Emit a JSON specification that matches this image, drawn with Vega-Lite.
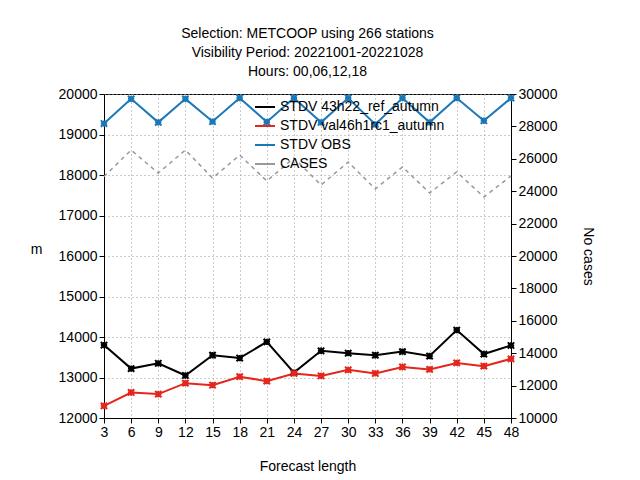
{
  "$schema": "https://vega.github.io/schema/vega-lite/v6.json",
  "width": 407,
  "height": 324,
  "autosize": {"type": "none"},
  "padding": {"left": 104, "top": 94, "right": 129, "bottom": 62},
  "background": "white",
  "title": {
    "text": ["Selection: METCOOP using   266 stations", "Visibility   Period: 20221001-20221028", "Hours:  00,06,12,18"],
    "anchor": "middle",
    "fontSize": 14,
    "font": "Liberation Sans",
    "fontWeight": "normal",
    "lineHeight": 19,
    "offset": 8
  },
  "data": {
    "values": [
      {"s": "STDV 43h22_ref_autumn", "fc": 3, "v": 13800},
      {"s": "STDV 43h22_ref_autumn", "fc": 6, "v": 13220},
      {"s": "STDV 43h22_ref_autumn", "fc": 9, "v": 13350},
      {"s": "STDV 43h22_ref_autumn", "fc": 12, "v": 13050},
      {"s": "STDV 43h22_ref_autumn", "fc": 15, "v": 13550},
      {"s": "STDV 43h22_ref_autumn", "fc": 18, "v": 13480},
      {"s": "STDV 43h22_ref_autumn", "fc": 21, "v": 13880},
      {"s": "STDV 43h22_ref_autumn", "fc": 24, "v": 13120},
      {"s": "STDV 43h22_ref_autumn", "fc": 27, "v": 13660},
      {"s": "STDV 43h22_ref_autumn", "fc": 30, "v": 13600},
      {"s": "STDV 43h22_ref_autumn", "fc": 33, "v": 13550},
      {"s": "STDV 43h22_ref_autumn", "fc": 36, "v": 13640},
      {"s": "STDV 43h22_ref_autumn", "fc": 39, "v": 13530},
      {"s": "STDV 43h22_ref_autumn", "fc": 42, "v": 14170},
      {"s": "STDV 43h22_ref_autumn", "fc": 45, "v": 13580},
      {"s": "STDV 43h22_ref_autumn", "fc": 48, "v": 13790},
      {"s": "STDV val46h1rc1_autumn", "fc": 3, "v": 12300},
      {"s": "STDV val46h1rc1_autumn", "fc": 6, "v": 12630},
      {"s": "STDV val46h1rc1_autumn", "fc": 9, "v": 12590},
      {"s": "STDV val46h1rc1_autumn", "fc": 12, "v": 12860},
      {"s": "STDV val46h1rc1_autumn", "fc": 15, "v": 12810},
      {"s": "STDV val46h1rc1_autumn", "fc": 18, "v": 13020},
      {"s": "STDV val46h1rc1_autumn", "fc": 21, "v": 12910},
      {"s": "STDV val46h1rc1_autumn", "fc": 24, "v": 13100},
      {"s": "STDV val46h1rc1_autumn", "fc": 27, "v": 13040},
      {"s": "STDV val46h1rc1_autumn", "fc": 30, "v": 13190},
      {"s": "STDV val46h1rc1_autumn", "fc": 33, "v": 13100},
      {"s": "STDV val46h1rc1_autumn", "fc": 36, "v": 13260},
      {"s": "STDV val46h1rc1_autumn", "fc": 39, "v": 13200},
      {"s": "STDV val46h1rc1_autumn", "fc": 42, "v": 13360},
      {"s": "STDV val46h1rc1_autumn", "fc": 45, "v": 13280},
      {"s": "STDV val46h1rc1_autumn", "fc": 48, "v": 13460},
      {"s": "STDV OBS", "fc": 3, "v": 19270},
      {"s": "STDV OBS", "fc": 6, "v": 19880},
      {"s": "STDV OBS", "fc": 9, "v": 19300},
      {"s": "STDV OBS", "fc": 12, "v": 19880},
      {"s": "STDV OBS", "fc": 15, "v": 19320},
      {"s": "STDV OBS", "fc": 18, "v": 19900},
      {"s": "STDV OBS", "fc": 21, "v": 19310},
      {"s": "STDV OBS", "fc": 24, "v": 19900},
      {"s": "STDV OBS", "fc": 27, "v": 19300},
      {"s": "STDV OBS", "fc": 30, "v": 19900},
      {"s": "STDV OBS", "fc": 33, "v": 19250},
      {"s": "STDV OBS", "fc": 36, "v": 19900},
      {"s": "STDV OBS", "fc": 39, "v": 19300},
      {"s": "STDV OBS", "fc": 42, "v": 19900},
      {"s": "STDV OBS", "fc": 45, "v": 19340},
      {"s": "STDV OBS", "fc": 48, "v": 19900},
      {"s": "CASES", "fc": 3, "v": 24900},
      {"s": "CASES", "fc": 6, "v": 26540},
      {"s": "CASES", "fc": 9, "v": 25120},
      {"s": "CASES", "fc": 12, "v": 26540},
      {"s": "CASES", "fc": 15, "v": 24810},
      {"s": "CASES", "fc": 18, "v": 26230},
      {"s": "CASES", "fc": 21, "v": 24630},
      {"s": "CASES", "fc": 24, "v": 26050},
      {"s": "CASES", "fc": 27, "v": 24380},
      {"s": "CASES", "fc": 30, "v": 25800},
      {"s": "CASES", "fc": 33, "v": 24140},
      {"s": "CASES", "fc": 36, "v": 25500},
      {"s": "CASES", "fc": 39, "v": 23890},
      {"s": "CASES", "fc": 42, "v": 25190},
      {"s": "CASES", "fc": 45, "v": 23640},
      {"s": "CASES", "fc": 48, "v": 24940}
    ]
  },
  "encoding": {
    "x": {
      "field": "fc", "type": "quantitative", "title": "Forecast length",
      "scale": {"domain": [3, 48], "nice": false},
      "axis": {"values": [3,6,9,12,15,18,21,24,27,30,33,36,39,42,45,48], "grid": true, "gridDash": [1, 3], "gridColor": "#999", "titlePadding": 20}
    },
    "color": {
      "field": "s", "type": "nominal", "title": null,
      "scale": {
        "domain": ["STDV 43h22_ref_autumn", "STDV val46h1rc1_autumn", "STDV OBS", "CASES"],
        "range": ["#000000", "#e4261c", "#1a78b8", "#999999"]
      },
      "legend": {"orient": "none", "legendX": 150, "legendY": 2, "symbolType": "stroke", "symbolStrokeWidth": 2, "labelFontSize": 14, "labelLimit": 300, "rowPadding": 1, "symbolSize": 400}
    }
  },
  "layer": [
    {
      "transform": [{"filter": "datum.s != 'CASES'"}],
      "encoding": {
        "y": {
          "field": "v", "type": "quantitative", "title": "m",
          "scale": {"domain": [12000, 20000], "nice": false},
          "axis": {"values": [12000,13000,14000,15000,16000,17000,18000,19000,20000], "format": "d", "grid": true, "gridDash": [1, 3], "gridColor": "#999", "titleAngle": 0, "titlePadding": 22}
        }
      },
      "layer": [
        {"mark": {"type": "line", "strokeWidth": 2}},
        {"mark": {"type": "point", "shape": "M-1,-1L1,1M1,-1L-1,1M0,-1L0,1M-1,0L1,0", "size": 40, "filled": false, "strokeWidth": 2, "opacity": 1}}
      ]
    },
    {
      "transform": [{"filter": "datum.s == 'CASES'"}],
      "mark": {"type": "line", "strokeWidth": 1.5, "strokeDash": [4, 4]},
      "encoding": {
        "y": {
          "field": "v", "type": "quantitative", "title": "No cases",
          "scale": {"domain": [10000, 30000], "nice": false},
          "axis": {"orient": "right", "values": [10000,12000,14000,16000,18000,20000,22000,24000,26000,28000,30000], "format": "d", "grid": false, "titlePadding": 24}
        }
      }
    }
  ],
  "resolve": {"scale": {"y": "independent"}},
  "config": {
    "font": "Liberation Sans",
    "view": {"stroke": "black"},
    "axis": {"labelFontSize": 14, "titleFontSize": 14, "titleFontWeight": "normal", "labelColor": "black", "titleColor": "black", "domainColor": "black", "tickColor": "black", "labelFlush": false}
  }
}
